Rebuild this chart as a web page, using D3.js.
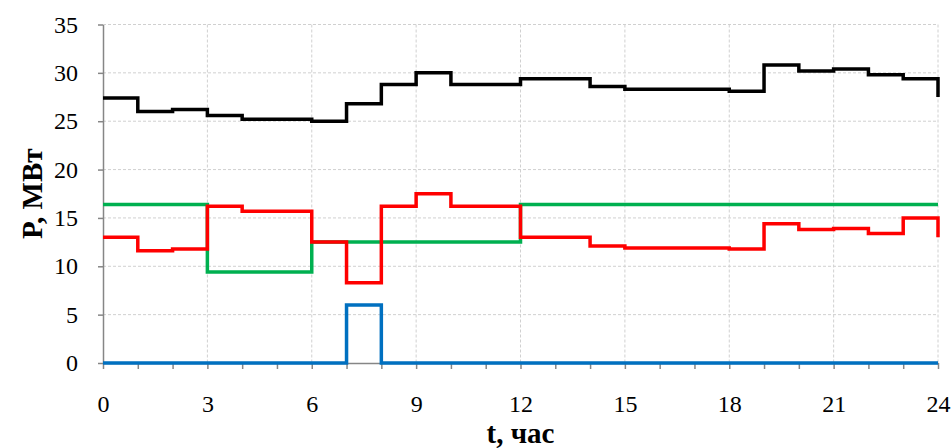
<!DOCTYPE html>
<html>
<head>
<meta charset="utf-8">
<script src="https://d3js.org/d3.v7.min.js"></script>
<style>
body { margin: 0; background: #fff; }
svg { display: block; }
.grid line { stroke: #d0d0d0; stroke-width: 1; stroke-dasharray: 3,2; }
.axis path, .axis line { stroke: #868686; stroke-width: 1.5; }
.axis text { font-family: "Liberation Serif", "Times New Roman", serif; font-size: 24px; fill: #000; }
.title { font-family: "Liberation Serif", "Times New Roman", serif; font-size: 29px; font-weight: bold; fill: #000; }
</style>
</head>
<body>
<script>
// часы суток, последняя точка - начало следующих суток
var hours = d3.range(0, 25);
// суммарная нагрузка
var pTotal = [27.4, 26.0, 26.2, 25.6, 25.2, 25.2, 25.0, 26.8, 28.8, 30.0, 28.8, 28.8,
              29.4, 29.4, 28.6, 28.3, 28.3, 28.3, 28.1, 30.8, 30.2, 30.4, 29.8, 29.4, 27.5];
// красная
var pRed = [13.0, 11.6, 11.8, 16.2, 15.7, 15.7, 12.5, 8.3, 16.2, 17.5, 16.2, 16.2,
            13.0, 13.0, 12.1, 11.9, 11.9, 11.9, 11.8, 14.4, 13.8, 13.9, 13.4, 15.0, 13.0];
// зелёная
var pGreen = [16.4, 16.4, 16.4, 9.4, 9.4, 9.4, 12.5, 12.5, 12.5, 12.5, 12.5, 12.5,
              16.4, 16.4, 16.4, 16.4, 16.4, 16.4, 16.4, 16.4, 16.4, 16.4, 16.4, 16.4, 16.4];
// синяя
var pBlue = [0, 0, 0, 0, 0, 0, 0, 6.0, 0, 0, 0, 0,
             0, 0, 0, 0, 0, 0, 0, 0, 0, 0, 0, 0, 0];
var xTicks = [0, 3, 6, 9, 12, 15, 18, 21, 24];
var yTicks = [0, 5, 10, 15, 20, 25, 30, 35];

var W = 952, H = 448;
var mLeft = 103, mRight = 938, mTop = 24.5, mBottom = 363;

var svg = d3.select("body").append("svg").attr("width", W).attr("height", H);
var x = d3.scaleLinear().domain([0, 24]).range([mLeft, mRight]);
var y = d3.scaleLinear().domain([0, 35]).range([mBottom, mTop]);

//сетка
var grid = svg.append("g").attr("class", "grid");
grid.selectAll("line.h").data(yTicks.slice(1)).enter().append("line")
	.attr("x1", mLeft).attr("x2", mRight)
	.attr("y1", function(d) { return y(d); })
	.attr("y2", function(d) { return y(d); });
grid.selectAll("line.v").data(xTicks.slice(1)).enter().append("line")
	.attr("y1", mTop).attr("y2", mBottom)
	.attr("x1", function(d) { return x(d); })
	.attr("x2", function(d) { return x(d); });

//оси
var xAxis = svg.append("g").attr("class", "axis")
	.attr("transform", "translate(0," + mBottom + ")")
	.call(d3.axisBottom(x).tickValues(hours).tickSize(6).tickSizeOuter(0)
		.tickFormat(function(d) { return xTicks.indexOf(d) >= 0 ? d : ""; }));
xAxis.selectAll("text").attr("dy", null).attr("y", 49);

var yAxis = svg.append("g").attr("class", "axis")
	.attr("transform", "translate(" + mLeft + ",0)")
	.call(d3.axisLeft(y).tickValues(yTicks).tickSize(5).tickSizeOuter(0).tickPadding(20));

//линии
var line = d3.line()
	.x(function(d, i) { return x(hours[i]); })
	.y(function(d) { return y(d); })
	.curve(d3.curveStepAfter);
var series = [
	{ v: pGreen, c: "#00b050" },
	{ v: pRed, c: "#ff0000" },
	{ v: pBlue, c: "#0070c0" },
	{ v: pTotal, c: "#000000" }
];
svg.append("g").selectAll("path").data(series).enter().append("path")
	.attr("d", function(s) { return line(s.v); })
	.attr("fill", "none")
	.attr("stroke", function(s) { return s.c; })
	.attr("stroke-width", 3.5);

//подписи осей
svg.append("text").attr("class", "title")
	.attr("x", (mLeft + mRight) / 2).attr("y", 443)
	.attr("text-anchor", "middle").text("t, час");
svg.append("text").attr("class", "title")
	.attr("transform", "translate(42," + (mTop + mBottom) / 2 + ") rotate(-90)")
	.attr("text-anchor", "middle").text("P, МВт");
</script>
</body>
</html>
